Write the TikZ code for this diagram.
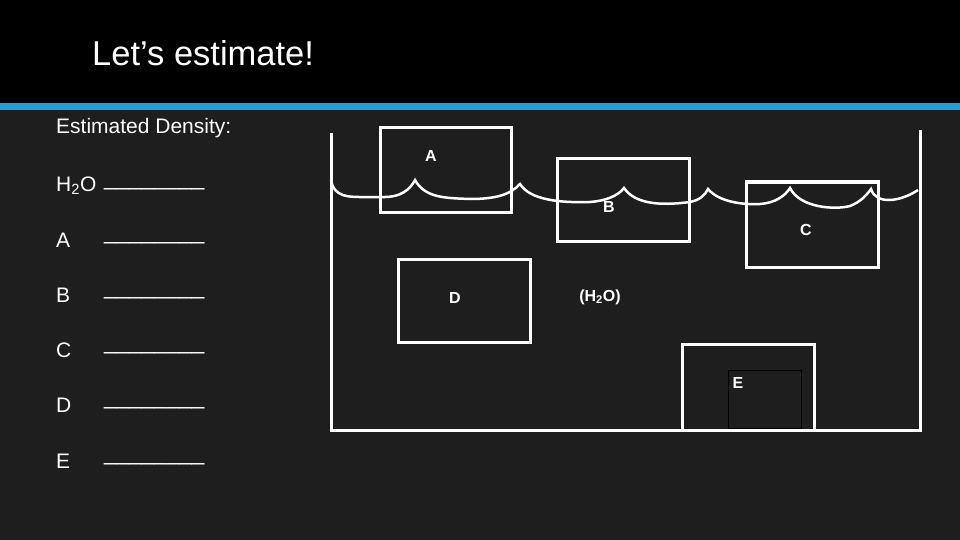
\documentclass[tikz,border=0pt]{standalone}
\usepackage{fontspec}
\setmainfont{Liberation Sans}
\begin{document}
\begin{tikzpicture}[x=1pt,y=-1pt,
  wl/.style={draw=white,line width=3pt},
  bx/.style={draw=white,line width=3pt},
  lab/.style={text=white,font=\bfseries\fontsize{16}{18}\selectfont},
  txt/.style={text=white,font=\fontsize{21}{23}\selectfont,anchor=west,inner sep=0}]
\useasboundingbox (0,0) rectangle (960,540);
\fill[fill={rgb,255:red,30;green,30;blue,30}] (0,0) rectangle (960,540);
\fill[black] (0,0) rectangle (960,103);
\fill[fill={rgb,255:red,28;green,160;blue,220}] (0,103) rectangle (960,110);
\node[txt,font=\fontsize{34.5}{36}\selectfont] (title) at (92,53) {Let’s estimate!};
\node[txt] (ed) at (56,128) {Estimated Density:};
\node[txt] (h) at (56,186) {H\textsubscript{2}O};
\node[txt,font=\fontsize{22.5}{24}\selectfont] (hu) at (104,188) {\_\_\_\_\_\_\_\_};
\foreach \l/\y in {A/240,B/295,C/350,D/405,E/461}{
  \node[txt] (t\l) at (56,\y) {\l};
  \node[txt,font=\fontsize{22.5}{24}\selectfont] (u\l) at (104,\y+2) {\_\_\_\_\_\_\_\_};}
% container
\coordinate (tl) at (331,133); \coordinate (bl) at (331,430);
\coordinate (br) at (920,430); \coordinate (tr) at (920,130);
\draw[wl] (tl) -- (bl) -- (br) -- (tr);
% water surface
\draw[white,line width=2.5pt] (331,180)
  .. controls (334,198) and (350,197) .. (365,197) -- (385,197)
  .. controls (400,197) and (410,190) .. (415,180)
  .. controls (425,198) and (445,198) .. (470,199)
  .. controls (495,199) and (510,195) .. (520,184)
  .. controls (530,200) and (560,203) .. (590,202)
  .. controls (605,201) and (618,196) .. (624,188)
  .. controls (635,204) and (660,206) .. (690,202)
  .. controls (700,200) and (705,195) .. (708,189)
  .. controls (718,201) and (740,205) .. (760,204)
  .. controls (775,203) and (785,196) .. (790,188)
  .. controls (800,208) and (835,210) .. (850,206)
  .. controls (860,202) and (866,196) .. (871,189)
  .. controls (876,205) and (900,202) .. (918,190);
% boxes
\draw[bx] (380,128) rectangle (511,212);
\draw[bx] (557,159) rectangle (689,241);
\draw[bx] (746,182) rectangle (878,267);
\draw[bx] (398,259) rectangle (530,342);
\draw[bx] (682,344) rectangle (814,430);
\draw[black,line width=1pt] (728,370) rectangle (801,428);
\node[lab] (A) at (431,156) {A};
\node[lab] (B) at (609,207) {B};
\node[lab] (C) at (806,230) {C};
\node[lab] (D) at (455,298) {D};
\node[lab] (W) at (600,297) {(H\textsubscript{2}O)};
\node[lab] (E) at (738,383) {E};
\end{tikzpicture}
\end{document}
